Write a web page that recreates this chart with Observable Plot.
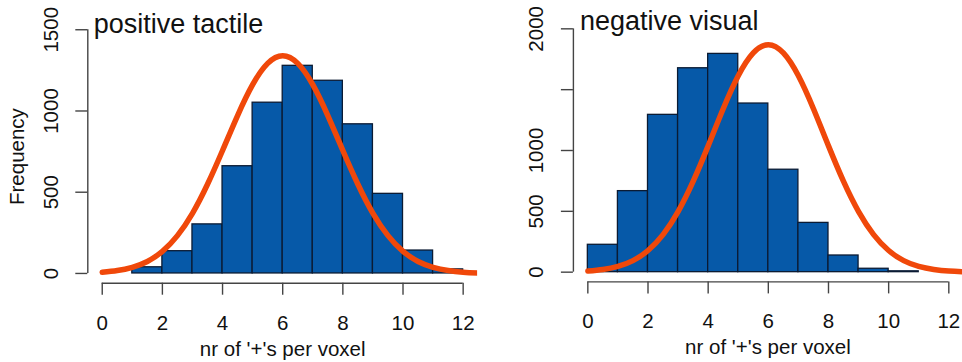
<!DOCTYPE html>
<html><head><meta charset="utf-8">
<script src="https://cdn.jsdelivr.net/npm/d3@7"></script>
<script src="https://cdn.jsdelivr.net/npm/@observablehq/plot@0.6"></script>
<style>
html,body{margin:0;padding:0;background:#fff;}
#wrap{display:flex;width:962px;height:362px;overflow:hidden;}
#wrap svg{flex:none;overflow:hidden;}
</style></head><body><div id="wrap"></div>
<script>
// ---- data: positive tactile ----
const leftTitle = "positive tactile";
const leftBinLo = [1, 2, 3, 4, 5, 6, 7, 8, 9, 10, 11];
const leftBinHi = [2, 3, 4, 5, 6, 7, 8, 9, 10, 11, 12];
const leftCounts = [38, 137, 302, 660, 1051, 1278, 1186, 918, 490, 141, 25];
const leftCurveX = [0,0.5,1,1.5,2,2.5,3,3.5,4,4.5,5,5.5,6,6.5,7,7.5,8,8.5,9,9.5,10,10.5,11,11.5,12,12.5];
const leftCurveY = [8,18,38,74,136,233,370,549,757,972,1162,1293,1340,1293,1162,972,757,549,370,233,136,74,38,18,8,3];
const leftYTicks = [0, 500, 1000, 1500];
const leftYTickLabels = ["0", "500", "1000", "1500"];

// ---- data: negative visual ----
const rightTitle = "negative visual";
const rightBinLo = [0, 1, 2, 3, 4, 5, 6, 7, 8, 9, 10];
const rightBinHi = [1, 2, 3, 4, 5, 6, 7, 8, 9, 10, 11];
const rightCounts = [225, 666, 1293, 1676, 1794, 1386, 842, 405, 137, 28, 7];
const rightCurveX = [0,0.5,1,1.5,2,2.5,3,3.5,4,4.5,5,5.5,6,6.5,7,7.5,8,8.5,9,9.5,10,10.5,11,11.5,12,12.5,13];
const rightCurveY = [9,22,47,95,178,309,498,746,1038,1343,1614,1802,1870,1802,1614,1343,1038,746,498,309,178,95,47,22,9,4,1];
const rightYTicks = [0, 500, 1000, 1500, 2000];
const rightYTickLabels = ["0", "500", "1000", "", "2000"];

// ---- shared axis ----
const xTicks = [0, 2, 4, 6, 8, 10, 12];
const xTickLabels = ["0", "2", "4", "6", "8", "10", "12"];
const xLabel = "nr of '+'s per voxel";
const yLabel = "Frequency";

const barFill = "#0659a8";
const barStroke = "#0b1b33";
const curveColor = "#f0480a";
const axisColor = "#444";
const textColor = "#111";

function panel({width, marginLeft, marginRight, marginTop, marginBottom, xDomain, yDomain,
                binLo, binHi, counts, curveX, curveY, yTicks, yTickLabels, title, titleDx, titleDy, showYLabel}) {
  const bins = binLo.map((lo, i) => ({lo, hi: binHi[i], n: counts[i]}));
  const curve = curveX.map((x, i) => ({x, y: curveY[i]}));
  const marks = [
    Plot.rectY(bins, {x1: "lo", x2: "hi", y: "n", fill: barFill, stroke: barStroke, strokeWidth: 1.3, inset: 0}),
    Plot.line(curve, {x: "x", y: "y", stroke: curveColor, strokeWidth: 5.5, curve: "natural", clip: true}),
    Plot.ruleX([xDomain[0]], {y1: yTicks[0], y2: yTicks[yTicks.length - 1], stroke: axisColor, strokeWidth: 1.4}),
    Plot.ruleY([yDomain[0]], {x1: xTicks[0], x2: xTicks[xTicks.length - 1], stroke: axisColor, strokeWidth: 1.4}),
    Plot.axisY({ticks: yTicks, anchor: "left", tickSize: 12, tickPadding: 18, tickRotate: -90,
      tickFormat: (d) => yTickLabels[yTicks.indexOf(d)], label: null, stroke: axisColor, strokeWidth: 1.4, fill: textColor}),
    Plot.axisX({ticks: xTicks, anchor: "bottom", tickSize: 12, tickPadding: 20,
      tickFormat: (d) => xTickLabels[xTicks.indexOf(d)], label: null, stroke: axisColor, strokeWidth: 1.4, fill: textColor}),
    Plot.text([xLabel], {frameAnchor: "bottom", dy: 72.5, lineAnchor: "bottom", textAnchor: "middle", fill: textColor}),
    Plot.text([title], {frameAnchor: "top-left", dx: titleDx, dy: titleDy, lineAnchor: "bottom", textAnchor: "start", fontSize: 27, fill: textColor})
  ];
  if (showYLabel) {
    marks.push(Plot.text([yLabel], {frameAnchor: "left", dx: -70, dy: 5, rotate: -90, lineAnchor: "middle", textAnchor: "middle", fill: textColor}));
  }
  return Plot.plot({
    width, height: 362, marginLeft, marginRight, marginTop, marginBottom,
    x: {domain: xDomain, label: null},
    y: {domain: yDomain, label: null},
    style: {fontFamily: "'Liberation Sans', Arial, sans-serif", fontSize: "20.5px", background: "white", color: textColor},
    marks
  });
}

const wrap = document.getElementById("wrap");
wrap.append(panel({
  width: 480, marginLeft: 87.3, marginRight: 2.9, marginTop: 19.5, marginBottom: 79.3,
  xDomain: [-0.48, 12.48], yDomain: [-60, 1560],
  binLo: leftBinLo, binHi: leftBinHi, counts: leftCounts, curveX: leftCurveX, curveY: leftCurveY,
  yTicks: leftYTicks, yTickLabels: leftYTickLabels, title: leftTitle, titleDx: 6, titleDy: 12.5, showYLabel: true
}));
wrap.append(panel({
  width: 482, marginLeft: 92.9, marginRight: 0, marginTop: 18.6, marginBottom: 80.6,
  xDomain: [-0.48, 12.455], yDomain: [-80, 2080],
  binLo: rightBinLo, binHi: rightBinHi, counts: rightCounts, curveX: rightCurveX, curveY: rightCurveY,
  yTicks: rightYTicks, yTickLabels: rightYTickLabels, title: rightTitle, titleDx: 6.5, titleDy: 10.5, showYLabel: false
}));
</script></body></html>
